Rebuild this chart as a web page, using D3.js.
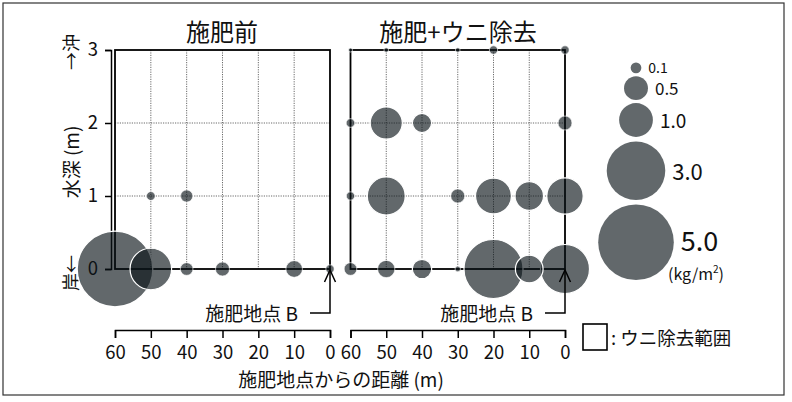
<!DOCTYPE html>
<html>
<head>
<meta charset="utf-8">
<script src="https://cdn.jsdelivr.net/npm/d3@7"></script>
<style>
  body { margin: 0; background: #fff; }
  svg text { font-family: "Noto Sans CJK JP", "Noto Sans", sans-serif; fill: #111; }
</style>
</head>
<body>
<svg width="792" height="402"></svg>
<script>
// distance from fertilising point B (m), depth (m)
const distances = [60, 50, 40, 30, 20, 10, 0];
const depths = [0, 1, 2, 3];

// biomass (kg/m2), one array per depth row, in the order of distances
const beforeDepth0 = [5.0, 1.51, 0.14, 0.17, 0, 0.24, 0.06];
const beforeDepth1 = [0, 0.065, 0.13, 0, 0, 0, 0];
const beforeDepth2 = [0, 0, 0, 0, 0, 0, 0];
const beforeDepth3 = [0, 0, 0, 0, 0, 0, 0];

const afterDepth0 = [0.14, 0.26, 0.33, 0.026, 3.05, 0.67, 2.1];
const afterDepth1 = [0.06, 1.26, 0.0035, 0.17, 1.13, 0.71, 1.16];
const afterDepth2 = [0.065, 0.9, 0.32, 0, 0, 0, 0.17];
const afterDepth3 = [0.014, 0.019, 0, 0.019, 0.06, 0, 0.06];

const legendValues = [0.1, 0.5, 1.0, 3.0, 5.0];
const legendLabels = ['0.1', '0.5', '1.0', '3.0', '5.0'];
const legendFont = [14, 17, 19, 22, 27];

const panelTitles = ['施肥前', '施肥+ウニ除去'];

const svg = d3.select('svg');

const rows = (arrs) => arrs.flatMap((vals, i) =>
  vals.map((v, j) => ({ dist: distances[j], depth: depths[i], value: v })))
  .filter(d => d.value > 0);

const panels = [
  { title: panelTitles[0], data: rows([beforeDepth0, beforeDepth1, beforeDepth2, beforeDepth3]),
    x: d3.scaleLinear().domain([60, 0]).range([115, 330]), titleX: 222 },
  { title: panelTitles[1], data: rows([afterDepth0, afterDepth1, afterDepth2, afterDepth3]),
    x: d3.scaleLinear().domain([60, 0]).range([350.5, 565]), titleX: 458 }
];

const yScale = d3.scaleLinear().domain([0, 3]).range([269, 50]);
const rScale = d3.scaleSqrt().domain([0, 5]).range([0, 37.8]);

// outer border
svg.append('rect')
  .attr('x', 3).attr('y', 3).attr('width', 781).attr('height', 392)
  .attr('fill', 'none').attr('stroke', '#333').attr('stroke-width', 1.2);

const circleFill = '#0a1318';

panels.forEach(p => {
  const x = p.x;
  const g = svg.append('g');

  // grid
  g.selectAll('.vgrid').data(distances.slice(1, -1))
    .enter().append('line')
      .attr('x1', d => x(d)).attr('x2', d => x(d))
      .attr('y1', yScale(3)).attr('y2', yScale(0))
      .attr('stroke', '#444').attr('stroke-width', 0.8)
      .attr('stroke-dasharray', '1.2,1.2');
  g.selectAll('.hgrid').data(depths.slice(1, -1))
    .enter().append('line')
      .attr('x1', x(60)).attr('x2', x(0))
      .attr('y1', d => yScale(d)).attr('y2', d => yScale(d))
      .attr('stroke', '#444').attr('stroke-width', 0.8)
      .attr('stroke-dasharray', '1.2,1.2');

  // panel frame
  g.append('rect')
    .attr('x', x(60)).attr('y', yScale(3))
    .attr('width', x(0) - x(60)).attr('height', yScale(0) - yScale(3))
    .attr('fill', 'none').attr('stroke', '#000').attr('stroke-width', 1.8);

  // bottom axis
  const xAxisG = svg.append('g')
    .attr('transform', 'translate(0,330)')
    .call(d3.axisBottom(x).tickValues(distances).tickSize(8).tickPadding(7.5));
  xAxisG.selectAll('path, line').attr('stroke', '#000').attr('stroke-width', 1.5);
  xAxisG.selectAll('text').attr('font-size', 18.5).attr('fill', '#111');

  // title
  svg.append('text')
    .attr('x', p.titleX).attr('y', 30)
    .attr('text-anchor', 'middle').attr('dominant-baseline', 'central')
    .attr('font-size', 24)
    .text(p.title);
});

// y axis
const yAxisG = svg.append('g')
  .attr('transform', 'translate(111,0)')
  .call(d3.axisLeft(yScale).tickValues(depths).tickSize(6).tickPadding(7).tickFormat(d3.format('d')));
yAxisG.selectAll('path, line').attr('stroke', '#000').attr('stroke-width', 1.5);
yAxisG.selectAll('text').attr('font-size', 18.5).attr('fill', '#111');

// y labels (rotated)
const yLab = (txt, cy, size) => svg.append('text')
  .attr('transform', `translate(70,${cy}) rotate(-90)`)
  .attr('text-anchor', 'middle').attr('dominant-baseline', 'central')
  .attr('font-size', size)
  .text(txt);
yLab('水深 (m)', 162, 19);
yLab('→沖', 52, 18);
yLab('岸←', 273, 18);

// bubbles
panels.forEach(p => {
  const data = p.data.slice().sort((a, b) => b.value - a.value);
  svg.append('g').selectAll('circle').data(data)
    .enter().append('circle')
      .attr('cx', d => p.x(d.dist))
      .attr('cy', d => yScale(d.depth))
      .attr('r', d => rScale(d.value))
      .attr('fill', circleFill).attr('fill-opacity', 0.64)
      .attr('stroke', '#fff').attr('stroke-width', d => d.value > 0.3 ? 1.2 : 0.6);
});

// fertilising point B arrows
panels.forEach(p => {
  const ax = p.x(0);
  const y0 = yScale(0);
  const a = svg.append('g').attr('fill', 'none').attr('stroke', '#000').attr('stroke-width', 1.5);
  a.append('path').attr('d', `M${ax - 20},313 H${ax} V${y0 + 1}`);
  a.append('path').attr('d', `M${ax - 5.5},${y0 + 13} L${ax},${y0 + 1} L${ax + 5.5},${y0 + 13}`);
  svg.append('text')
    .attr('x', ax - 32).attr('y', 312)
    .attr('text-anchor', 'end').attr('dominant-baseline', 'central')
    .attr('font-size', 19)
    .text('施肥地点 B');
});

// x axis title
svg.append('text')
  .attr('x', 341).attr('y', 378)
  .attr('text-anchor', 'middle').attr('dominant-baseline', 'central')
  .attr('font-size', 19)
  .text('施肥地点からの距離 (m)');

// size legend
const legendX = 636;
let yCursor = 62.5;
legendValues.forEach((v, i) => {
  const r = rScale(v);
  const cy = yCursor + r;
  yCursor = cy + r + (i < 2 ? 3 : 4.5);
  svg.append('circle')
    .attr('cx', legendX).attr('cy', cy).attr('r', r)
    .attr('fill', circleFill).attr('fill-opacity', 0.64);
  svg.append('text')
    .attr('x', legendX + r + 7).attr('y', cy - (i === 4 ? 3 : 1))
    .attr('dominant-baseline', 'central')
    .attr('font-size', legendFont[i])
    .text(legendLabels[i]);
});
const unit = svg.append('text')
  .attr('x', 668).attr('y', 273)
  .attr('dominant-baseline', 'central')
  .attr('font-size', 16);
unit.append('tspan').text('(kg/m');
unit.append('tspan').attr('font-size', 10).attr('dy', -5).text('2');
unit.append('tspan').attr('dy', 5).text(')');

// removal-area legend
svg.append('rect')
  .attr('x', 583).attr('y', 324).attr('width', 24).attr('height', 26)
  .attr('fill', '#fff').attr('stroke', '#000').attr('stroke-width', 1.6);
svg.append('text')
  .attr('x', 611).attr('y', 337)
  .attr('dominant-baseline', 'central')
  .attr('font-size', 18.5)
  .text(': ウニ除去範囲');
</script>
</body>
</html>
